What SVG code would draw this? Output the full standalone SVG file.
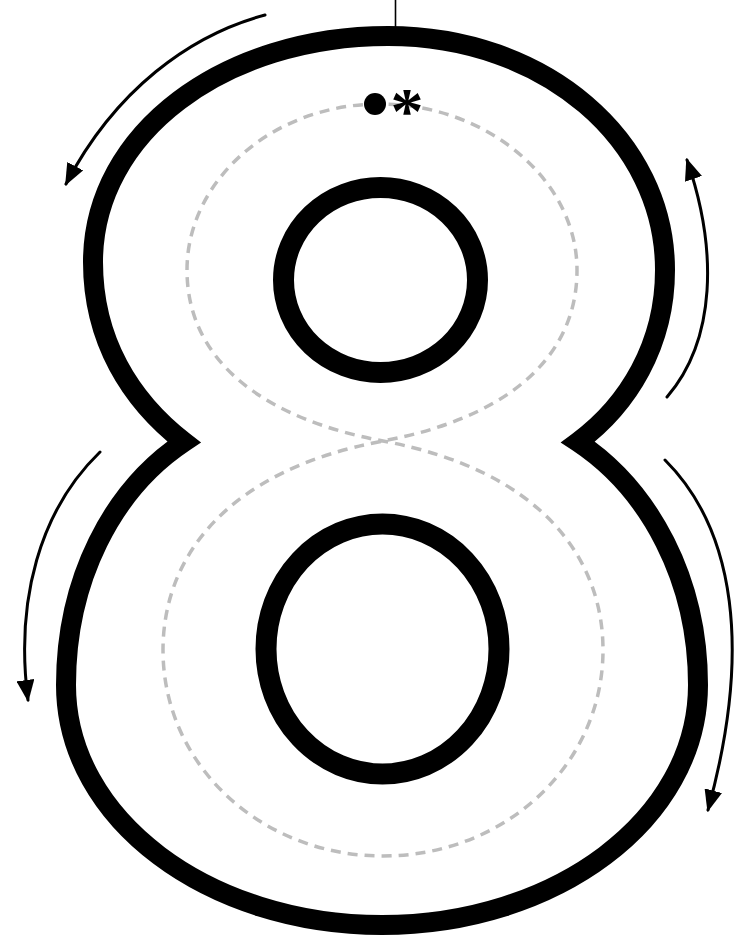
<svg xmlns="http://www.w3.org/2000/svg" width="745" height="937" viewBox="0 0 745 937">
<style>
.outline{fill:none;stroke:#000;stroke-width:20;stroke-linejoin:miter;stroke-miterlimit:6}
.counter{fill:none;stroke:#000;stroke-width:21}
.trace{fill:none;stroke:#bdbdbd;stroke-width:3.5;stroke-dasharray:10 7}
.arrow{fill:none;stroke:#000;stroke-width:3;stroke-linecap:round}
</style>
<defs>
<marker id="ah" markerUnits="userSpaceOnUse" markerWidth="22" markerHeight="18" refX="20" refY="9" orient="auto">
<path d="M0,0 L22,9 L0,18 z" fill="#000"/>
</marker>
</defs>
<rect width="745" height="937" fill="#fff"/>
<g id="top-line"><line x1="395.5" y1="0" x2="395.5" y2="27" stroke="#000" stroke-width="1.6"/></g>
<g id="trace"><path class="trace" d="M380,104 C273,104 187,180 187,270 C187,365 270,420 383,441 C543,471 603,560 603,650 C603,765 505,856 383,856 C261,856 163,765 163,650 C163,560 223,471 383,441 C496,420 577,365 577,270 C577,180 487,104 380,104 Z"/></g>
<g id="eight"><path class="outline" d="M184,442 C130,400 93,340 93,262 C93,132 225,36 388,36 C545,36 665,140 665,270 C665,345 628,405 578,442 C650,490 698,580 698,685 C698,820 555,925 382,925 C209,925 66,820 66,685 C66,580 112,490 184,442 Z"/></g>
<g id="counter-upper"><ellipse class="counter" cx="380.5" cy="280" rx="97" ry="92.5"/></g>
<g id="counter-lower"><ellipse class="counter" cx="382.5" cy="649" rx="116.5" ry="125"/></g>
<g id="start">
<circle cx="375" cy="104" r="11" fill="#000"/>
<text x="407" y="133" font-family="Liberation Serif, serif" font-weight="bold" font-size="66" text-anchor="middle" fill="#000">*</text>
</g>
<g id="connectors">
<path class="arrow" marker-end="url(#ah)" d="M265,15 C190,35 115,90 66,184"/>
<path class="arrow" marker-end="url(#ah)" d="M667,397 C716,340 718,250 687,160"/>
<path class="arrow" marker-end="url(#ah)" d="M100,452 C40,510 15,600 28,700"/>
<path class="arrow" marker-end="url(#ah)" d="M665,460 C735,530 752,650 708,810"/>
</g>
</svg>
